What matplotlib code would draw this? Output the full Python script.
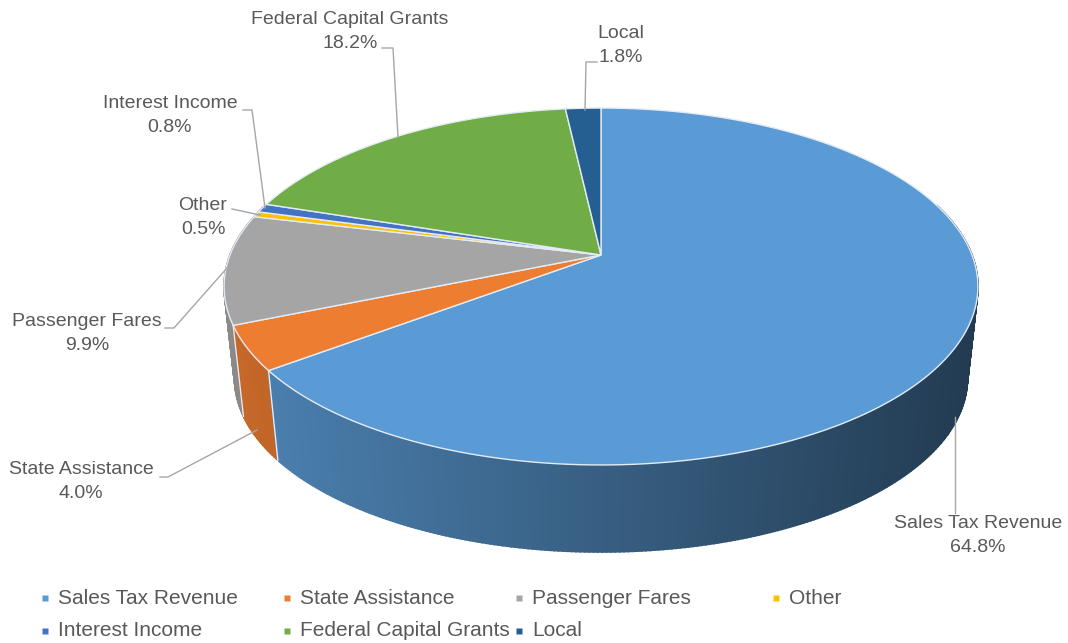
import numpy as np
import matplotlib.pyplot as plt
from matplotlib.patches import Polygon

plt.rcParams['font.family'] = ['Liberation Sans', 'DejaVu Sans']

# data
names = ['Sales Tax Revenue', 'State Assistance', 'Passenger Fares', 'Other',
         'Interest Income', 'Federal Capital Grants', 'Local']
pct = [64.8, 4.0, 9.9, 0.5, 0.8, 18.2, 1.8]
colors = ['#5B9BD5', '#ED7D31', '#A5A5A5', '#FFC000', '#4472C4', '#70AD47', '#255E91']

# label layout (pixel coords of text centres) and leader lines
lab_xy = [(978, 524), (81, 469), (87, 322), (203, 205), (170, 103), (350, 19), (621, 34)]
leaders = [[(955, 513), (955, 417)],
           [(160, 477), (168, 477), (257, 430)],
           [(165, 328), (174, 328), (227, 268)],
           [(232, 209), (260, 215)],
           [(243, 110), (252, 110), (265, 208)],
           [(382, 48), (393, 48), (398, 137)],
           [(597, 62), (586, 62), (585, 110)]]

# pie geometry (perspective ellipse)
CX, CY = 601, 255
A, B, K = 371, 172.9, 0.1765
DEP, SHR = 92.9, 0.972
TXT = '#595959'
LINE = '#A6A6A6'
EDGE = '#E3ECF6'


def top(phi):
	u = np.cos(phi)
	v = np.sin(phi)
	s = 1.0 / (1 + K * v)
	return CX + A * u * s, CY - B * v * s


def bot(phi):
	x, y = top(phi)
	return CX + SHR * (x - CX), CY + DEP + SHR * (y - CY)


def shade(col, x):
	rgb = np.array(plt.matplotlib.colors.to_rgb(col))
	t = np.clip((x - 225) / (980 - 225), 0, 1)
	f = 0.84 - 0.46 * t
	return tuple(rgb * f)


fig = plt.figure(figsize=(10.68, 6.43), dpi=100)
ax = fig.add_axes([0, 0, 1, 1])
ax.set_xlim(0, 1068)
ax.set_ylim(643, 0)
ax.axis('off')

cum = np.concatenate([[0], np.cumsum(pct)]) / sum(pct)
starts = np.pi / 2 - 2 * np.pi * cum[:-1]
ends = np.pi / 2 - 2 * np.pi * cum[1:]

# side walls, drawn back to front
quads = []
for i in range(len(pct)):
	n = max(3, int(abs(ends[i] - starts[i]) / 0.01))
	ph = np.linspace(starts[i], ends[i], n)
	for a0, a1 in zip(ph[:-1], ph[1:]):
		mid = 0.5 * (a0 + a1)
		if np.sin(mid) > 0.3:
			continue
		p = [top(a0), top(a1), bot(a1), bot(a0)]
		c = shade(colors[i], top(mid)[0])
		quads.append((np.sin(mid), p, c))
quads.sort(key=lambda q: -q[0])
for d, p, c in quads:
	ax.add_patch(Polygon(p, closed=True, facecolor=c, edgecolor=c, lw=1.2, joinstyle='miter'))

# light seams on the wall
for b in ends:
	if np.sin(b) < -0.25:
		x0, y0 = top(b)
		x1, y1 = bot(b)
		ax.plot([x0, x1], [y0, y1], color=EDGE, lw=1)

# top faces
for i in range(len(pct)):
	n = max(3, int(abs(ends[i] - starts[i]) / 0.01))
	ph = np.linspace(starts[i], ends[i], n)
	pts = [(CX, CY)] + [top(a) for a in ph]
	ax.add_patch(Polygon(pts, closed=True, facecolor=colors[i], edgecolor=EDGE, lw=1.0))

# labels
for i in range(len(pct)):
	x, y = lab_xy[i]
	ax.text(x, y, names[i], ha='center', va='center', fontsize=14, color=TXT)
	ax.text(x, y + 24, '%.1f%%' % pct[i], ha='center', va='center', fontsize=14, color=TXT)
	xs = [p[0] for p in leaders[i]]
	ys = [p[1] for p in leaders[i]]
	ax.plot(xs, ys, color=LINE, lw=1)

# legend
leg_x = [45, 287, 519, 776, 45, 287, 519]
leg_y = [598, 598, 598, 598, 631, 631, 631]
for i in range(len(names)):
	ax.plot(leg_x[i], leg_y[i], marker='s', ms=4.5, color=colors[i], mec='none')
	ax.text(leg_x[i] + 13, leg_y[i], names[i], ha='left', va='center', fontsize=15, color=TXT)

fig.savefig('out.png', dpi=100)
